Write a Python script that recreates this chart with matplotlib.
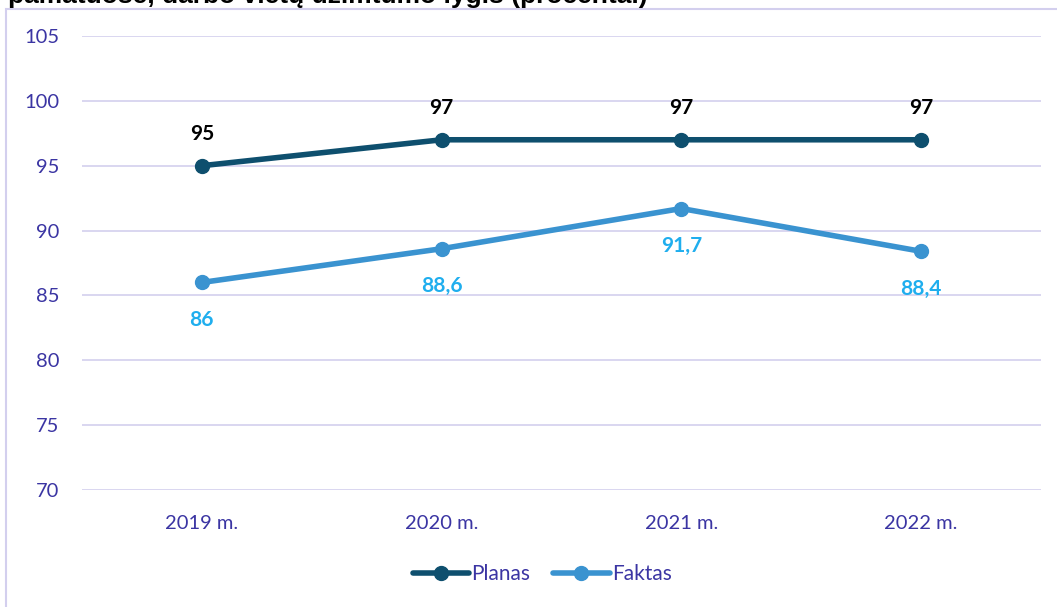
import matplotlib
matplotlib.use("Agg")
import matplotlib.pyplot as plt
from matplotlib.patches import Rectangle

# data
years = ["2019 m.", "2020 m.", "2021 m.", "2022 m."]
planas = [95, 97, 97, 97]
faktas = [86, 88.6, 91.7, 88.4]
y_ticks = [70, 75, 80, 85, 90, 95, 100, 105]
title = "pamatuose, darbo vietų užimtumo lygis (procentai)"

c_plan = "#0E4F6E"
c_fakt = "#3A93D0"
c_fakt_lbl = "#1FAEEE"
c_tick = "#3B35A3"
c_grid = "#D3CFEE"

plt.rcParams["font.family"] = ["Lato", "DejaVu Sans"]

W, H = 1057, 607
fig = plt.figure(figsize=(W / 100, H / 100), dpi=100)
ax = fig.add_axes([82 / W, 1 - 490 / H, (1041 - 82) / W, (490 - 36) / H])

# outer chart frame (cut off on the right and bottom)
fig.patches.append(Rectangle((6 / W, -0.1), 1.2, 1 - 9 / H + 0.1,
                             transform=fig.transFigure, fill=False,
                             edgecolor=c_grid, lw=1.5, clip_on=False))

fig.text(8 / W, 1 - 3.5 / H, title, fontsize=19, fontweight="bold",
         family="Liberation Sans", color="black", va="baseline")

x = list(range(len(years)))
ax.plot(x, planas, color=c_plan, lw=4, marker="o", ms=10, label="Planas",
        solid_capstyle="round", zorder=3)
ax.plot(x, faktas, color=c_fakt, lw=4, marker="o", ms=10, label="Faktas",
        solid_capstyle="round", zorder=3)

for xi, v in zip(x, planas):
    ax.annotate(f"{v:g}", (xi, v), xytext=(0, 23), textcoords="offset points",
                ha="center", va="center", fontsize=15, fontweight="bold",
                color="black")
for xi, v in zip(x, faktas):
    ax.annotate(f"{v:g}".replace(".", ","), (xi, v), xytext=(0, -27),
                textcoords="offset points", ha="center", va="center",
                fontsize=15, fontweight="bold", color=c_fakt_lbl)

ax.set_xlim(-0.5, len(years) - 0.5)
ax.set_ylim(70, 105)
ax.set_yticks(y_ticks)
ax.set_xticks(x)
ax.set_xticklabels(years)
ax.tick_params(axis="both", length=0, labelsize=14.5, labelcolor=c_tick)
ax.tick_params(axis="y", pad=16.5)
ax.tick_params(axis="x", pad=18)
ax.grid(axis="y", color=c_grid, lw=1.2)
ax.set_axisbelow(True)
for s in ax.spines.values():
    s.set_visible(False)

leg = ax.legend(loc="center", bbox_to_anchor=(0.48, -0.185), ncol=2,
                frameon=False, fontsize=15, handlelength=2.7,
                columnspacing=1.1, handletextpad=0.1)
for t in leg.get_texts():
    t.set_color(c_tick)

fig.savefig("out.png", dpi=100)
